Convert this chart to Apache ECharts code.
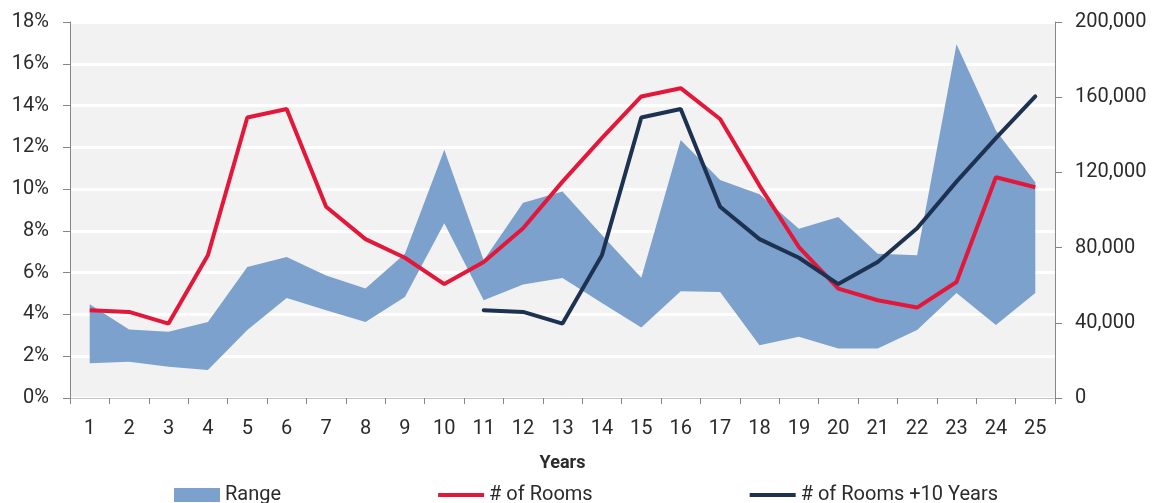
<!DOCTYPE html>
<html>
<head>
<meta charset="utf-8">
<title>Rooms by Year</title>
<script src="https://cdn.jsdelivr.net/npm/echarts@6/dist/echarts.min.js"></script>
<style>
  html, body { margin: 0; padding: 0; background: #ffffff; }
  #chart { width: 1153px; height: 503px; }
</style>
</head>
<body>
<div id="chart"></div>
<script>
// Year index along the horizontal axis
const years = ['1','2','3','4','5','6','7','8','9','10','11','12','13','14','15','16','17','18','19','20','21','22','23','24','25'];

// Range band, in percent (left axis)
const rangeLow  = [1.66, 1.73, 1.50, 1.34, 3.25, 4.79, 4.20, 3.64, 4.84, 8.37, 4.68, 5.43, 5.75, 4.55, 3.38, 5.11, 5.08, 2.53, 2.93, 2.37, 2.37, 3.25, 5.03, 3.49, 5.03];
const rangeHigh = [4.49, 3.28, 3.17, 3.64, 6.27, 6.75, 5.87, 5.24, 6.91, 11.88, 6.60, 9.35, 9.89, 7.80, 5.76, 12.35, 10.44, 9.75, 8.10, 8.66, 6.91, 6.83, 16.94, 12.80, 10.33];

// Number of rooms (right axis)
const rooms = [46700, 45800, 39600, 75900, 149200, 153700, 101700, 84500, 74600, 60600, 72300, 90300, 115100, 138200, 160400, 164800, 148400, 113000, 80300, 58200, 52000, 48100, 61700, 117400, 112100];

// Number of rooms ten years on (right axis)
const roomsPlus10 = [null, null, null, null, null, null, null, null, null, null, 46700, 45800, 39600, 75900, 149200, 153700, 101700, 84500, 74600, 60600, 72300, 90300, 115100, 138200, 160400];

// Left and right axis ranges
const pctMax = 18, pctStep = 2;
const roomsMax = 200000, roomsStep = 40000;

const FONT = 'Roboto';
const TEXT = '#2b2b2b';
const AXIS = '#868686';

// legend marker for the two line series: a thin bar, kept at its own aspect
const LINE_ICON = 'path://M0,0H46V4H0Z';

const bandSpan = rangeHigh.map((h, i) => +(h - rangeLow[i]).toFixed(2));

const chart = echarts.init(document.getElementById('chart'), null, { renderer: 'canvas' });

chart.setOption({
  animation: false,
  textStyle: { fontFamily: FONT, color: TEXT },
  grid: {
    left: 70, right: 98, top: 22, bottom: 105,
    show: true, backgroundColor: '#f2f2f2', borderWidth: 0
  },
  legend: {
    left: 174, top: 485, padding: 0,
    itemWidth: 46, itemHeight: 14, itemGap: 157,
    symbolKeepAspect: true,
    textStyle: { fontFamily: FONT, fontSize: 20, color: TEXT },
    data: [
      { name: 'Range', icon: 'rect' },
      { name: '# of Rooms', icon: LINE_ICON },
      { name: '# of Rooms +10 Years', icon: LINE_ICON }
    ]
  },
  xAxis: [
    {
      type: 'category',
      data: years,
      boundaryGap: true,
      name: 'Years',
      nameLocation: 'middle',
      nameGap: 56,
      nameTextStyle: { fontFamily: FONT, fontSize: 18, fontWeight: 'bold', color: TEXT },
      axisLine: { show: true, lineStyle: { color: AXIS, width: 1 } },
      axisTick: { show: true, length: 6, lineStyle: { color: AXIS } },
      axisLabel: { margin: 21, fontFamily: FONT, fontSize: 20, color: TEXT, interval: 0 },
      splitLine: { show: false }
    },
    {
      // thin frame line along the top of the plot
      type: 'category',
      data: years,
      position: 'top',
      offset: 2,
      axisLine: { show: true, lineStyle: { color: '#c4c4c4', width: 1 } },
      axisTick: { show: false },
      axisLabel: { show: false },
      splitLine: { show: false }
    }
  ],
  yAxis: [
    {
      type: 'value',
      min: 0, max: pctMax, interval: pctStep,
      position: 'left',
      axisLine: { show: true, lineStyle: { color: AXIS, width: 1 } },
      axisTick: { show: true, length: 7, lineStyle: { color: AXIS } },
      axisLabel: { formatter: '{value}%', margin: 21, fontFamily: FONT, fontSize: 20, color: TEXT },
      splitLine: { show: true, lineStyle: { color: '#ffffff', width: 3 } }
    },
    {
      type: 'value',
      min: 0, max: roomsMax, interval: roomsStep,
      position: 'right',
      axisLine: { show: true, lineStyle: { color: AXIS, width: 1 } },
      axisTick: { show: true, length: 7, lineStyle: { color: AXIS } },
      axisLabel: {
        formatter: v => v.toLocaleString('en-US'),
        margin: 20, fontFamily: FONT, fontSize: 20, color: TEXT
      },
      splitLine: { show: false }
    }
  ],
  series: [
    {
      name: 'RangeBase',
      type: 'line',
      yAxisIndex: 0,
      stack: 'band',
      data: rangeLow,
      symbol: 'none',
      lineStyle: { width: 0, opacity: 0 },
      areaStyle: { opacity: 0 },
      silent: true,
      z: 1
    },
    {
      name: 'Range',
      type: 'line',
      yAxisIndex: 0,
      stack: 'band',
      data: bandSpan,
      symbol: 'none',
      color: '#7da1cd',
      lineStyle: { width: 0, opacity: 0 },
      areaStyle: { color: '#7da1cd', opacity: 1 },
      z: 2
    },
    {
      name: '# of Rooms',
      type: 'line',
      yAxisIndex: 1,
      data: rooms,
      symbol: 'none',
      color: '#e3173a',
      lineStyle: { color: '#e3173a', width: 4 },
      z: 3
    },
    {
      name: '# of Rooms +10 Years',
      type: 'line',
      yAxisIndex: 1,
      data: roomsPlus10,
      symbol: 'none',
      color: '#1d3150',
      lineStyle: { color: '#1d3150', width: 4, cap: 'round' },
      z: 4
    }
  ]
});
</script>
</body>
</html>
